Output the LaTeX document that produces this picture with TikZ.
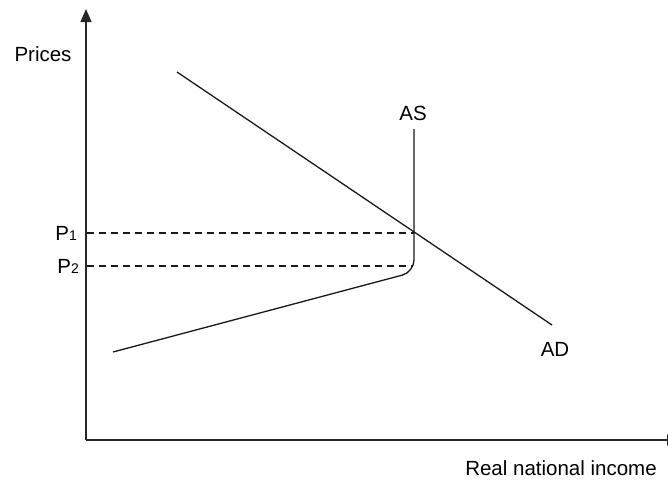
\documentclass[tikz,border=0pt]{standalone}
\usepackage{fontspec}
\setmainfont{Liberation Sans}
\usetikzlibrary{arrows.meta}
\tikzset{
  lbl/.style={inner sep=0pt, font=\fontsize{20.5}{24}\selectfont},
  axisline/.style={line width=1.4pt, draw=black!85},
  curve/.style={line width=1.3pt, draw=black!90},
  guide/.style={line width=1.3pt, draw=black!90, dash pattern=on 7pt off 5pt}
}
\newcommand{\subone}[1]{{\fontsize{14}{14}\selectfont #1}}
\begin{document}
\begin{tikzpicture}[x=1pt,y=-1pt]
\useasboundingbox (0,0) rectangle (668,480);
\clip (0,0) rectangle (668,480);
% axes
\coordinate (O) at (86,440);
\coordinate (ytop) at (86,9);
\coordinate (xend) at (680,440);
\draw[axisline,-{Triangle[length=13pt,width=11pt]}] (O) -- (ytop);
\draw[axisline,-{Triangle[length=13pt,width=11pt]}] (O) -- (xend);
% labels
\node[lbl] (prices) at (43,54) {Prices};
\node[lbl] (xlabel) at (561,468) {Real national income};
\node[lbl,anchor=east] (p1) at (77,233) {P\subone{1}};
\node[lbl,anchor=east] (p2) at (79,266) {P\subone{2}};
\node[lbl] (aslbl) at (413,113) {AS};
\node[lbl] (adlbl) at (555,349) {AD};
% AD
\coordinate (ad1) at (177,72);
\coordinate (ad2) at (552,325);
\draw[curve] (ad1) -- (ad2);
% AS
\coordinate (as1) at (414,129);
\coordinate (ascorner) at (414,272);
\coordinate (as2) at (113,352);
\draw[curve,rounded corners=12pt] (as1) -- (ascorner) -- (as2);
% dashed guides
\coordinate (g1a) at (87,233);
\coordinate (g1b) at (414,233);
\coordinate (g2a) at (87,266);
\coordinate (g2b) at (412,266);
\draw[guide] (g1a) -- (g1b);
\draw[guide] (g2a) -- (g2b);
\end{tikzpicture}
\end{document}
